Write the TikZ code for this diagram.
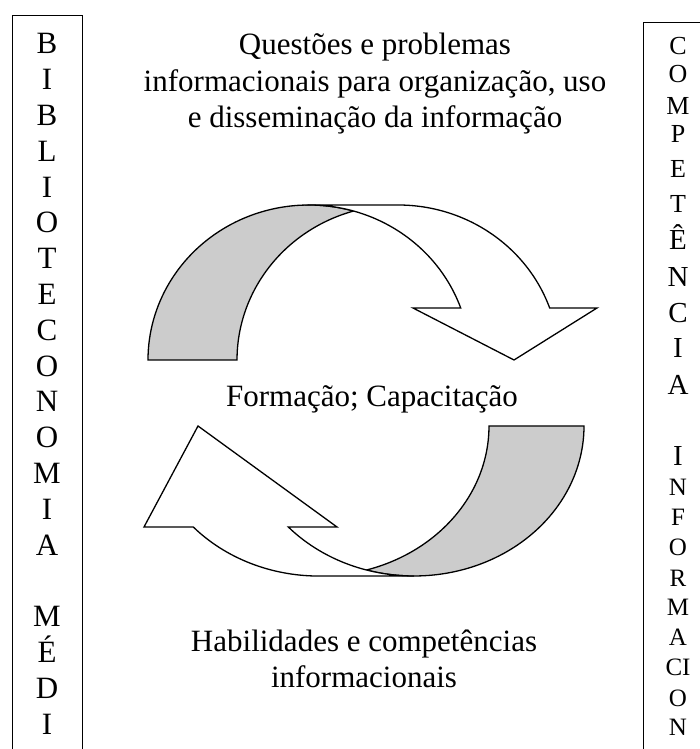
\documentclass[tikz,border=0pt]{standalone}
\usepackage{fontspec}
\setmainfont{Liberation Serif}
\definecolor{shade}{RGB}{204,204,204}

\begin{document}
\begin{tikzpicture}[x=1pt, y=1pt,
  frontband/.style={draw, line width=1.3pt, fill=white},
  backband/.style={draw, line width=1.3pt, fill=shade},
  caption/.style={align=center, anchor=base, font=\fontsize{31}{36.5}\selectfont},
  sideletter/.style={anchor=base, inner sep=0pt}]

  % Canvas
  \useasboundingbox (0,0) rectangle (700,749);
  \clip (0,0) rectangle (700,749);

  % Side frames (open at the page edges)
  \draw[line width=0.9pt] (12,-5) -- (12,734) -- (82,734) -- (82,-5);
  \draw[line width=0.9pt] (643,-5) -- (643,727) -- (705,727);

  % Left column
  \foreach \ch/\k in {B/0,I/1,B/2,L/3,I/4,O/5,T/6,E/7,C/8,O/9,N/10,O/11,M/12,I/13,A/14,M/16,É/17,D/18,I/19}
    \node[sideletter, font=\fontsize{31}{36}\selectfont] (bib\k) at (47,695-35.8*\k) {\ch};

  % Right column
  \foreach \ch/\y/\s [count=\i] in {C/694/26,O/666/26,M/634/26,P/606/26,E/571/26,T/536/26,Ê/499/29,N/462/29,C/426/29,I/391/29,A/354/29,
      I/283/29,N/253/25,F/223/25,O/193/25,R/162/25,M/133/25,A/103/25,CI/73/25,O/42/25,N/13/25}
    \node[sideletter, font=\fontsize{\s}{\s}\selectfont] (comp\i) at (678,\y) {\ch};

  % Parameters
  \def\rxup{161}
  \def\ryup{155}
  \def\rxlow{170}
  \def\rylow{150}

  % Upper arrow: back of the band, then its front with the head
  \draw[backband] (148,389) arc[start angle=180, end angle=73.95, x radius=\rxup, y radius=\ryup]
    arc[start angle=106.05, end angle=180, x radius=\rxup, y radius=\ryup] -- cycle;
  \draw[frontband] (309,544) -- (398,544)
    arc[start angle=90, end angle=19.6, x radius=\rxup, y radius=\ryup]
    -- (597,441) -- (514,389) -- (413,441) -- (460.7,441)
    arc[start angle=19.6, end angle=90, x radius=\rxup, y radius=\ryup] -- cycle;

  % Lower arrow
  \draw[backband] (489,323) -- (584,323)
    arc[start angle=0, end angle=-106.23, x radius=\rxlow, y radius=\rylow]
    arc[start angle=-73.77, end angle=0, x radius=\rxlow, y radius=\rylow] -- cycle;
  \draw[frontband] (193.3,222) arc[start angle=222.3, end angle=270, x radius=\rxlow, y radius=\rylow]
    -- (414,173) arc[start angle=270, end angle=222.3, x radius=\rxlow, y radius=\rylow]
    -- (337,222) -- (198,323) -- (144,222) -- cycle;

  % Captions (base = last line)
  \node[caption] (issues) at (375,621) {Questões e problemas\\informacionais para organização, uso\\e disseminação da informação};
  \node[caption] (training) at (372,342) {Formação; Capacitação};
  \node[caption] (skills) at (364,61) {Habilidades e competências\\informacionais};

\end{tikzpicture}
\end{document}
